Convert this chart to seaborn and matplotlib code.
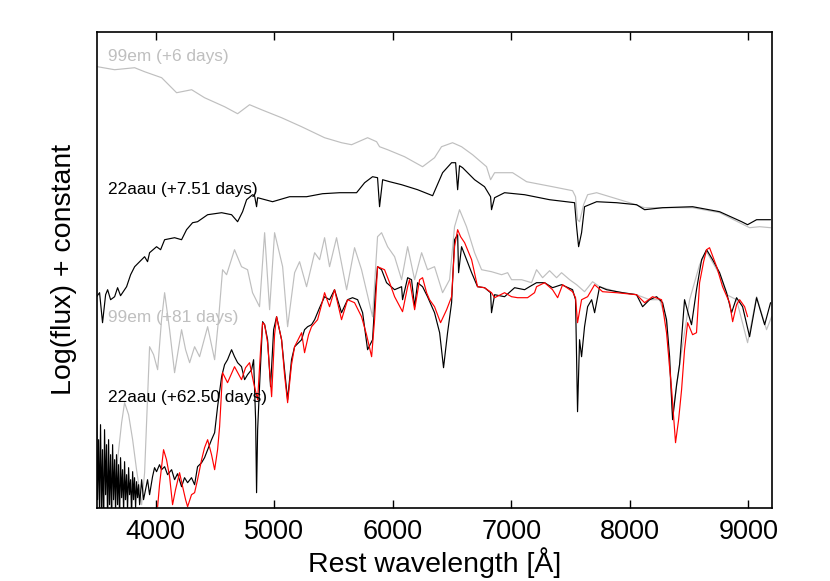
import matplotlib
matplotlib.use("Agg")
import matplotlib.pyplot as plt
import seaborn as sns

# 99em (+6 days)
wave_99em_early = [3508, 3652, 3821, 3905, 4049, 4175, 4302, 4411, 4580, 4690, 4791, 4892,
                   5061, 5230, 5424, 5567, 5652, 5787, 5863, 5888, 5956, 6099, 6251, 6352,
                   6411, 6504, 6580, 6673, 6791, 6825, 6859, 7011, 7129, 7348, 7517, 7542,
                   7559, 7576, 7610, 7644, 7720, 7998, 8125, 8251, 8530, 8758, 8927, 9011,
                   9096, 9188]
flux_99em_early = [4.41, 4.38, 4.40, 4.36, 4.30, 4.15, 4.18, 4.10, 4.01, 3.94, 4.03, 3.98,
                   3.90, 3.81, 3.70, 3.65, 3.63, 3.70, 3.66, 3.61, 3.58, 3.51, 3.41, 3.50,
                   3.61, 3.65, 3.61, 3.53, 3.41, 3.28, 3.35, 3.35, 3.26, 3.21, 3.17, 3.11,
                   2.88, 2.86, 3.03, 3.13, 3.15, 3.05, 3.00, 3.00, 3.00, 2.95, 2.85, 2.80,
                   2.81, 2.80]

# 22aau (+7.51 days)
wave_22aau_early = [3500, 3525, 3550, 3576, 3593, 3618, 3652, 3677, 3702, 3719, 3753, 3787,
                    3821, 3863, 3905, 3930, 3947, 4006, 4040, 4074, 4158, 4217, 4259, 4310,
                    4352, 4437, 4555, 4639, 4690, 4732, 4766, 4816, 4833, 4850, 4859, 4985,
                    5129, 5272, 5407, 5551, 5694, 5762, 5829, 5871, 5888, 5914, 5973, 6074,
                    6209, 6336, 6420, 6496, 6530, 6547, 6563, 6589, 6690, 6774, 6825, 6833,
                    6859, 6943, 7112, 7323, 7534, 7551, 7568, 7593, 7618, 7720, 7888, 8057,
                    8125, 8277, 8530, 8758, 8944, 8994, 9070, 9188]
flux_22aau_early = [2.11, 2.15, 1.85, 2.13, 2.18, 2.08, 2.11, 2.20, 2.12, 2.15, 2.21, 2.33,
                    2.41, 2.46, 2.51, 2.46, 2.55, 2.61, 2.58, 2.68, 2.70, 2.68, 2.78, 2.85,
                    2.86, 2.93, 2.95, 2.93, 2.86, 2.96, 3.08, 3.13, 3.12, 3.01, 3.10, 3.06,
                    3.11, 3.11, 3.14, 3.15, 3.15, 3.25, 3.31, 3.30, 3.01, 3.28, 3.26, 3.23,
                    3.18, 3.12, 3.35, 3.45, 3.45, 3.18, 3.42, 3.40, 3.28, 3.21, 3.11, 2.98,
                    3.10, 3.15, 3.13, 3.08, 3.05, 2.81, 2.61, 2.75, 3.01, 3.06, 3.05, 3.03,
                    2.98, 3.00, 3.01, 2.96, 2.86, 2.83, 2.88, 2.88]

# 99em (+81 days)
wave_99em_late = [3635, 3677, 3711, 3736, 3770, 3804, 3837, 3880, 3905, 3947, 3981, 4015,
                  4048, 4074, 4116, 4158, 4217, 4251, 4285, 4327, 4369, 4437, 4496, 4529,
                  4563, 4597, 4664, 4723, 4774, 4816, 4875, 4918, 4960, 5002, 5070, 5112,
                  5171, 5213, 5272, 5340, 5382, 5424, 5466, 5525, 5610, 5677, 5736, 5829,
                  5871, 5905, 5956, 6015, 6074, 6125, 6184, 6243, 6293, 6352, 6420, 6479,
                  6521, 6563, 6622, 6690, 6749, 6833, 6918, 6969, 7002, 7087, 7171, 7213,
                  7264, 7323, 7382, 7424, 7492, 7551, 7618, 7686, 7745, 7888, 8057, 8167,
                  8252, 8310, 8361, 8420, 8505, 8589, 8648, 8758, 8817, 8901, 8994, 9070,
                  9154, 9197]
flux_99em_late = [0.01, 0.48, 0.85, 1.05, 0.93, 0.68, 0.38, 0.03, 0.35, 1.61, 1.53, 1.38,
                  1.88, 2.15, 1.78, 1.35, 1.78, 1.58, 1.45, 1.61, 1.51, 1.81, 1.48, 1.88,
                  2.38, 2.33, 2.58, 2.41, 2.38, 2.15, 2.01, 2.75, 1.98, 2.75, 2.41, 1.81,
                  2.35, 2.46, 2.21, 2.55, 2.48, 2.70, 2.41, 2.70, 2.18, 2.60, 2.38, 1.91,
                  2.71, 2.75, 2.61, 2.51, 2.28, 2.61, 2.28, 2.55, 2.38, 2.41, 2.15, 2.28,
                  2.81, 2.98, 2.81, 2.55, 2.38, 2.36, 2.33, 2.35, 2.28, 2.28, 2.25, 2.38,
                  2.30, 2.37, 2.30, 2.35, 2.28, 2.23, 2.16, 2.26, 2.21, 2.16, 2.13, 2.08,
                  2.08, 1.86, 0.93, 1.43, 2.08, 2.43, 2.56, 2.33, 2.13, 2.08, 1.65, 2.11,
                  1.78, 1.91]

# 22aau (+62.50 days)
wave_22aau_late = [3500, 3508, 3517, 3525, 3533, 3542, 3550, 3559, 3567, 3576, 3584, 3593,
                   3601, 3609, 3618, 3626, 3635, 3643, 3652, 3660, 3668, 3677, 3685, 3694,
                   3702, 3711, 3719, 3728, 3736, 3744, 3753, 3761, 3770, 3778, 3787, 3795,
                   3804, 3812, 3820, 3829, 3837, 3846, 3854, 3863, 3880, 3896, 3913, 3930,
                   3947, 3972, 3989, 4006, 4031, 4048, 4074, 4099, 4133, 4158, 4183, 4217,
                   4242, 4268, 4301, 4327, 4352, 4386, 4411, 4437, 4470, 4496, 4521, 4555,
                   4580, 4605, 4639, 4664, 4690, 4723, 4749, 4774, 4808, 4825, 4842, 4850,
                   4859, 4875, 4901, 4918, 4943, 4968, 4994, 5019, 5061, 5086, 5112, 5145,
                   5171, 5230, 5255, 5281, 5314, 5340, 5382, 5424, 5466, 5508, 5534, 5567,
                   5618, 5660, 5703, 5745, 5787, 5829, 5854, 5871, 5905, 5947, 6015, 6074,
                   6082, 6125, 6158, 6184, 6209, 6251, 6293, 6352, 6395, 6428, 6462, 6496,
                   6521, 6547, 6555, 6580, 6622, 6665, 6715, 6774, 6825, 6833, 6859, 6943,
                   7028, 7112, 7154, 7213, 7281, 7348, 7424, 7517, 7542, 7559, 7576, 7593,
                   7618, 7644, 7678, 7703, 7745, 7804, 7939, 8057, 8108, 8167, 8226, 8277,
                   8310, 8336, 8361, 8395, 8420, 8462, 8496, 8521, 8563, 8606, 8648, 8699,
                   8758, 8817, 8859, 8901, 8952, 9011, 9070, 9138, 9188]
flux_22aau_late = [0.98, 0.08, 0.68, -0.12, 0.83, -0.02, 0.58, -0.22, 0.78, 0.13, 0.63, -0.17,
                   0.68, 0.03, 0.53, -0.12, 0.63, 0.08, 0.48, -0.07, 0.53, 0.03, 0.43, -0.12,
                   0.50, 0.10, 0.38, -0.04, 0.46, 0.08, 0.33, -0.02, 0.40, 0.13, 0.28, -0.07,
                   0.36, 0.08, 0.30, 0.00, 0.26, 0.10, 0.23, 0.03, 0.28, 0.08, 0.18, 0.28,
                   0.13, 0.31, 0.40, 0.36, 0.43, 0.38, 0.41, 0.33, 0.38, 0.28, 0.34, 0.21,
                   0.30, 0.25, 0.30, 0.23, 0.41, 0.45, 0.50, 0.58, 0.68, 0.75, 1.01, 1.31,
                   1.43, 1.48, 1.58, 1.51, 1.45, 1.41, 1.28, 1.33, 1.38, 1.48, 0.88, 0.15,
                   0.78, 1.21, 1.86, 1.83, 1.68, 1.21, 1.78, 1.91, 1.68, 1.38, 1.08, 1.48,
                   1.61, 1.68, 1.78, 1.81, 1.83, 1.88, 2.00, 2.11, 2.08, 2.18, 2.08, 1.95,
                   2.08, 2.10, 2.08, 1.95, 1.58, 1.68, 2.18, 2.41, 2.38, 2.25, 2.18, 2.21,
                   2.08, 2.30, 2.28, 2.01, 2.25, 2.21, 2.11, 1.95, 1.75, 1.40, 1.75, 2.05,
                   2.68, 2.73, 2.35, 2.61, 2.48, 2.35, 2.21, 2.20, 2.15, 1.95, 2.13, 2.11,
                   2.20, 2.18, 2.21, 2.25, 2.25, 2.20, 2.23, 2.18, 2.08, 0.96, 1.68, 1.51,
                   1.81, 2.01, 2.08, 1.95, 2.21, 2.18, 2.15, 2.13, 2.01, 2.08, 2.11, 2.05,
                   1.88, 1.51, 0.88, 1.23, 1.43, 2.08, 1.93, 1.83, 2.18, 2.48, 2.58, 2.48,
                   2.35, 2.15, 1.95, 2.10, 2.01, 1.71, 2.10, 1.83, 2.05]

# comparison spectrum (red)
wave_model = [4015, 4031, 4065, 4090, 4116, 4141, 4166, 4200, 4226, 4251, 4268, 4301,
              4327, 4352, 4386, 4411, 4437, 4470, 4496, 4521, 4538, 4563, 4605, 4664,
              4723, 4757, 4791, 4825, 4859, 4884, 4901, 4918, 4943, 4977, 5002, 5019,
              5061, 5086, 5112, 5145, 5171, 5230, 5255, 5289, 5314, 5365, 5399, 5424,
              5466, 5508, 5567, 5618, 5677, 5736, 5778, 5821, 5846, 5871, 5930, 5973,
              6015, 6082, 6125, 6141, 6184, 6226, 6251, 6285, 6310, 6352, 6403, 6454,
              6496, 6521, 6547, 6572, 6606, 6665, 6715, 6774, 6833, 6859, 6943, 7002,
              7053, 7137, 7196, 7213, 7281, 7348, 7391, 7433, 7517, 7542, 7559, 7593,
              7644, 7703, 7770, 7888, 8057, 8125, 8192, 8268, 8310, 8353, 8386, 8412,
              8437, 8462, 8488, 8530, 8563, 8589, 8623, 8648, 8673, 8733, 8783, 8842,
              8868, 8901, 8927, 8969, 8994]
flux_model = [0.01, 0.23, 0.58, 0.48, 0.31, 0.03, 0.18, 0.35, 0.21, 0.08, 0.01, 0.13,
              0.15, 0.28, 0.48, 0.60, 0.68, 0.53, 0.38, 0.58, 0.81, 1.35, 1.25, 1.41,
              1.28, 1.40, 1.45, 1.25, 1.08, 1.58, 1.85, 1.83, 1.65, 1.11, 1.73, 1.91,
              1.68, 1.33, 1.05, 1.43, 1.61, 1.75, 1.55, 1.73, 1.81, 1.88, 2.03, 2.15,
              2.01, 2.18, 1.88, 2.08, 2.05, 1.91, 1.73, 1.51, 1.88, 2.41, 2.38, 2.25,
              2.11, 1.96, 2.21, 2.28, 1.98, 2.28, 2.30, 2.15, 2.08, 2.01, 1.85, 1.98,
              2.11, 2.61, 2.78, 2.71, 2.65, 2.48, 2.21, 2.20, 2.15, 2.10, 2.15, 2.11,
              2.10, 2.10, 2.15, 2.21, 2.25, 2.18, 2.10, 2.23, 2.16, 2.10, 1.85, 2.08,
              2.11, 2.23, 2.16, 2.15, 2.13, 2.05, 2.11, 2.08, 1.75, 1.18, 0.65, 0.88,
              1.18, 1.58, 1.85, 1.73, 1.75, 2.25, 2.46, 2.58, 2.60, 2.41, 2.21, 2.05,
              1.86, 2.03, 2.08, 2.01, 1.91]

sns.set_style("ticks")
plt.rcParams["font.family"] = ["Liberation Sans", "DejaVu Sans"]
plt.rcParams["text.color"] = "black"
plt.rcParams["axes.labelcolor"] = "black"
plt.rcParams["xtick.color"] = "black"

fig = plt.figure(figsize=(8.3, 5.81), dpi=100)
ax = fig.add_axes([0.1164, 0.1262, 0.8137, 0.8192])

gray = "#bfbfbf"
sns.lineplot(x=wave_99em_early, y=flux_99em_early, color=gray, lw=0.85, estimator=None, ax=ax)
sns.lineplot(x=wave_22aau_early, y=flux_22aau_early, color="black", lw=0.85, estimator=None, ax=ax)
sns.lineplot(x=wave_99em_late, y=flux_99em_late, color=gray, lw=0.85, estimator=None, ax=ax)
sns.lineplot(x=wave_22aau_late, y=flux_22aau_late, color="black", lw=0.85, estimator=None, ax=ax)
sns.lineplot(x=wave_model, y=flux_model, color="red", lw=0.85, estimator=None, ax=ax)

ax.text(3595, 4.51, "99em (+6 days)", color=gray, fontsize=12.4, va="center")
ax.text(3595, 3.18, "22aau (+7.51 days)", color="black", fontsize=12.4, va="center")
ax.text(3595, 1.90, "99em (+81 days)", color=gray, fontsize=12.4, va="center")
ax.text(3595, 1.10, "22aau (+62.50 days)", color="black", fontsize=12.4, va="center")

ax.set_xlim(3500, 9200)
ax.set_ylim(0, 4.76)
ax.set_xticks([4000, 5000, 6000, 7000, 8000, 9000])
ax.set_yticks([])
ax.tick_params(axis="x", direction="in", top=True, length=6, width=1,
               labelsize=19.5, labelcolor="black", pad=8)
for s in ax.spines.values():
    s.set_linewidth(1.2)
    s.set_color("black")

ax.set_xlabel("Rest wavelength [Å]", fontsize=20.5, labelpad=2)
ax.set_ylabel("Log(flux) + constant", fontsize=20.5, labelpad=14)

fig.savefig("out.png", dpi=100)
